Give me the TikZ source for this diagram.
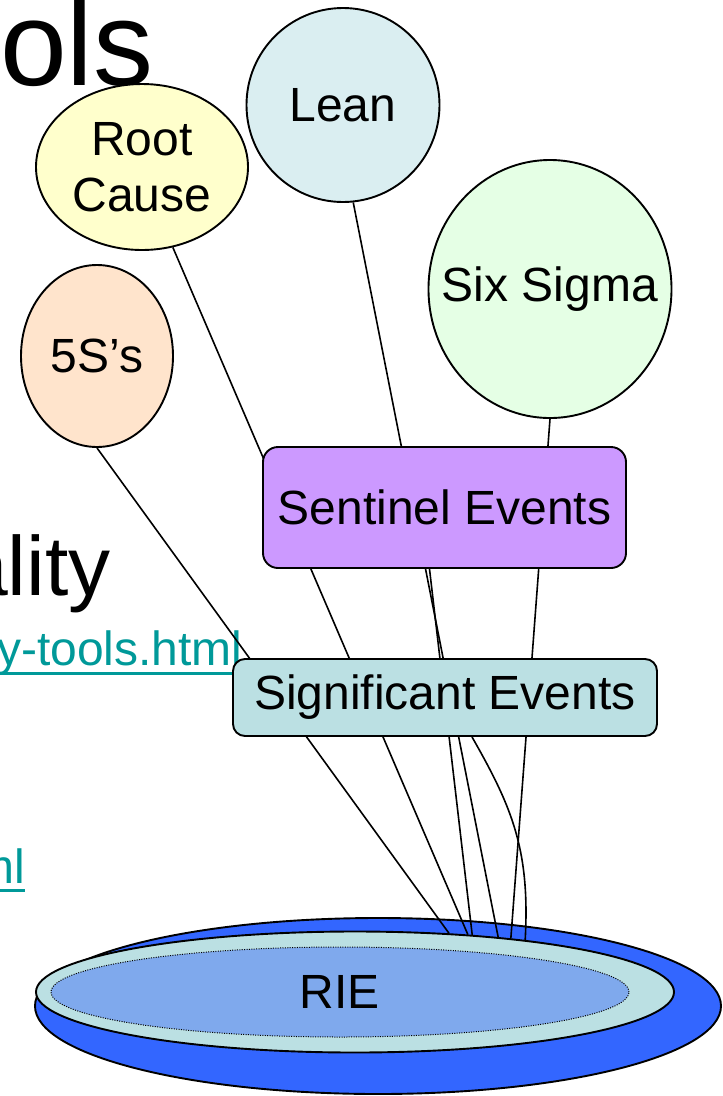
\documentclass[tikz,border=0pt]{standalone}
\usepackage{fontspec}
\setmainfont{Liberation Sans}
\usetikzlibrary{shapes.geometric}
\definecolor{rootyellow}{HTML}{FFFFCC}
\definecolor{leanblue}{HTML}{DAEEF1}
\definecolor{sixgreen}{HTML}{E5FFE5}
\definecolor{fivepeach}{HTML}{FFE4CC}
\definecolor{sentpurple}{HTML}{CC99FF}
\definecolor{sigteal}{HTML}{BBE0E3}
\definecolor{riebase}{HTML}{3366FF}
\definecolor{rieinner}{HTML}{7FA9ED}
\definecolor{linkteal}{HTML}{009999}
\pgfdeclarelayer{slide}
\pgfdeclarelayer{strings}
\pgfsetlayers{slide,strings,main}
\newcommand{\labelsize}{\fontsize{48}{56}\selectfont}

\begin{document}
\begin{tikzpicture}[x=1pt,y=-1pt,
    outline/.style={draw,line width=1.9pt},
    balloon/.style={ellipse,outline,fill=#1,inner sep=0pt},
    tagtext/.style={font=\labelsize,align=center,inner sep=0pt},
    eventbox/.style={rectangle,outline,fill=#1,font=\labelsize,inner sep=0pt},
    tether/.style={line width=1.6pt},
    slidetext/.style={anchor=base west,inner sep=0pt},
    urltext/.style={slidetext,text=linkteal,font=\labelsize}]
    \useasboundingbox (0,0) rectangle (723,1096);
    \begin{pgfonlayer}{slide}
        \begin{scope}
            \clip (0,0) rectangle (723,1096);
            \node[slidetext,font=\fontsize{120}{120}\selectfont] (tools) at (0,85) {ols};
            \node[slidetext,font=\fontsize{84}{84}\selectfont] (quality) at (-39,595) {ality};
            \node[urltext] (urla) at (-3,665) {y-tools.html};
            \node[urltext] (urlb) at (-26,883) {ml};
            \draw[linkteal,line width=3pt] ([yshift=-8pt]urla.base west) -- ([yshift=-8pt]urla.base east);
            \draw[linkteal,line width=3pt] ([yshift=-7pt]urlb.base west) -- ([yshift=-7pt]urlb.base east);
        \end{scope}
        \draw[outline,fill=riebase] (378,1006) ellipse [x radius=343,y radius=88];
        \node[balloon=sigteal,minimum width=638pt,minimum height=121pt] (rim) at (355,992) {};
        \node[balloon=rieinner,line width=1pt,dash pattern=on 1pt off 1.4pt,minimum width=578pt,minimum height=90pt,font=\labelsize] (rie) at (340,992) {RIE};
    \end{pgfonlayer}
    \node[balloon=rootyellow,minimum width=212pt,minimum height=166pt,label={[tagtext]center:Root\\Cause}] (root) at (142,167) {};
    \node[balloon=leanblue,minimum width=193pt,minimum height=194pt,label={[tagtext]center:Lean}] (lean) at (343,105) {};
    \node[balloon=sixgreen,minimum width=243pt,minimum height=258pt,label={[tagtext]center:Six Sigma}] (six) at (550,289) {};
    \node[balloon=fivepeach,minimum width=152pt,minimum height=182pt,label={[tagtext]center:5S’s}] (five) at (97,356) {};
    \node[eventbox=sentpurple,rounded corners=15pt,minimum width=363pt,minimum height=121pt] (sent) at (444.5,507.5) {Sentinel Events};
    \node[eventbox=sigteal,rounded corners=12pt,minimum width=424pt,minimum height=77pt] (sig) at (445,697.5) {Significant Events};
    \begin{pgfonlayer}{strings}
        \draw[tether] (five.south) -- (rim.32);
        \draw[tether] (root.-69) -- (rim.27);
        \draw[tether] ([xshift=-15pt]sent.south) -- (rim.26);
        \draw[tether] (lean.-84) -- (rim.21);
        \draw[tether] (six.south) -- (rim.19);
        \draw[tether] ([xshift=27pt]sig.south) .. controls +(40,70) and +(5,-90) .. (rim.17);
    \end{pgfonlayer}
\end{tikzpicture}
\end{document}
